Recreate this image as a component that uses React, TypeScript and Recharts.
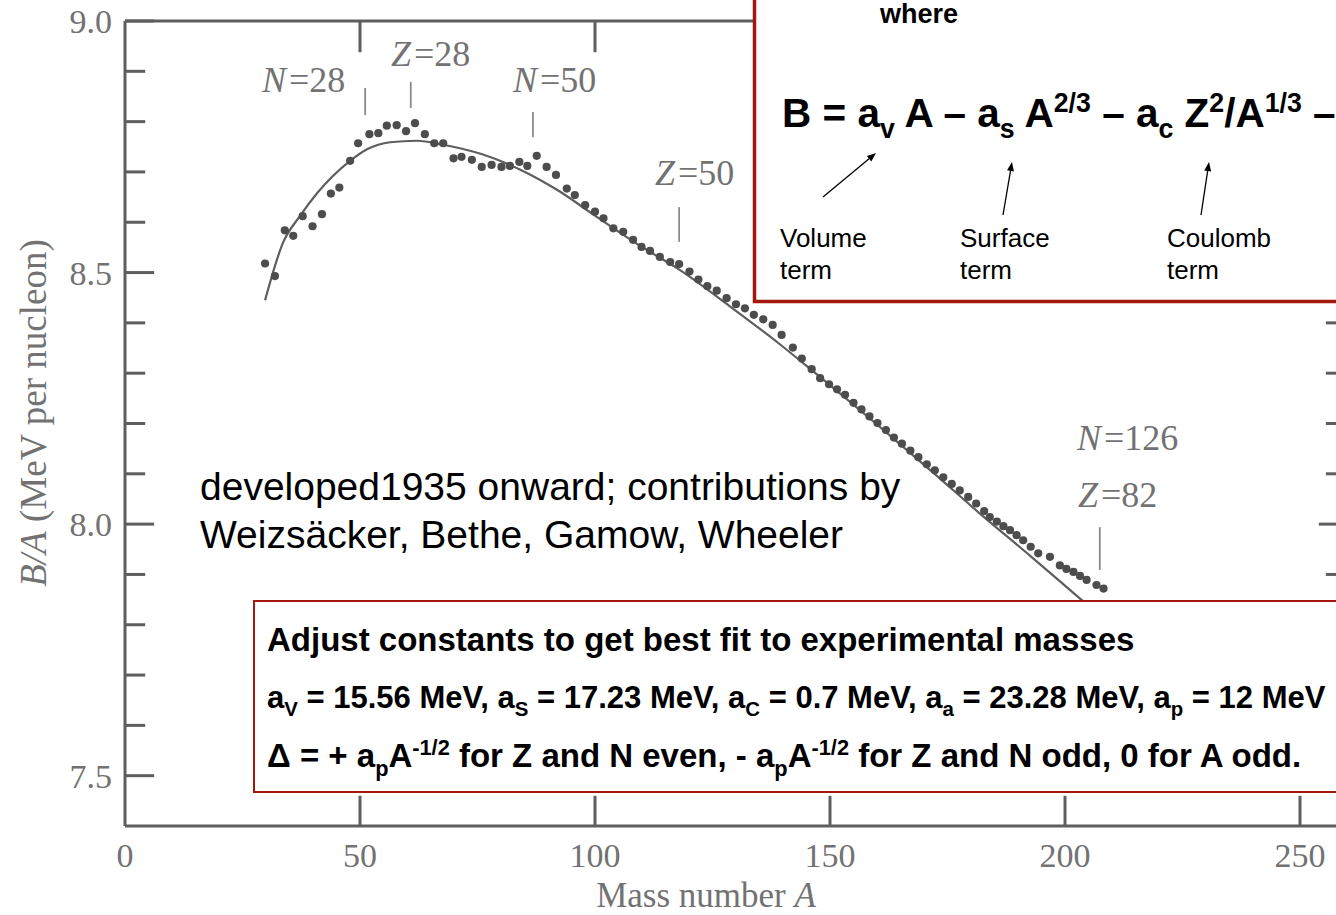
import React from "react";
import {
  ComposedChart,
  Line,
  ReferenceLine,
  Scatter,
  XAxis,
  YAxis,
} from "recharts";

// Measured binding energy per nucleon (MeV) against mass number A
const massNumbers = [
  29.8, 31.9, 34.0, 35.8, 37.8, 39.9, 41.9, 43.8, 45.6, 47.9, 49.6, 52.0,
  53.9, 55.7, 57.8, 59.8, 61.7, 63.8, 65.8, 67.7, 69.9, 71.6, 73.8, 75.9,
  78.0, 80.1, 81.9, 83.9, 85.6, 87.6, 89.7, 91.7, 94.0, 95.7, 97.9, 100.0,
  101.8, 103.9, 106.0, 108.1, 109.9, 111.7, 113.8, 116.0, 117.9, 120.1, 122.0,
  123.9, 125.9, 128.0, 130.0, 131.9, 133.8, 135.8, 137.8, 139.7, 142.1, 144.0,
  146.1, 147.9, 149.8, 151.5, 153.2, 155.0, 156.7, 158.4, 160.1, 161.9, 163.6,
  165.3, 167.1, 168.8, 170.6, 172.3, 174.1, 175.9, 177.6, 179.4, 181.1, 182.8,
  184.0, 185.5, 186.9, 188.3, 189.7, 191.1, 192.7, 194.3, 196.8, 198.9, 200.3,
  201.8, 203.2, 204.6, 206.7, 208.2,
];
const bindingPerNucleon = [
  8.518, 8.493, 8.584, 8.573, 8.612, 8.592, 8.616, 8.657, 8.669, 8.722, 8.757,
  8.775, 8.777, 8.792, 8.793, 8.781, 8.797, 8.775, 8.757, 8.757, 8.727, 8.73,
  8.724, 8.71, 8.714, 8.71, 8.712, 8.72, 8.712, 8.732, 8.71, 8.694, 8.667,
  8.654, 8.634, 8.621, 8.608, 8.588, 8.581, 8.565, 8.551, 8.543, 8.531, 8.521,
  8.517, 8.502, 8.486, 8.473, 8.464, 8.449, 8.437, 8.429, 8.416, 8.407, 8.396,
  8.376, 8.351, 8.329, 8.308, 8.29, 8.278, 8.268, 8.257, 8.241, 8.228, 8.214,
  8.201, 8.187, 8.172, 8.16, 8.146, 8.133, 8.119, 8.107, 8.093, 8.08, 8.067,
  8.054, 8.041, 8.026, 8.014, 8.005, 7.996, 7.988, 7.978, 7.968, 7.955, 7.942,
  7.935, 7.918, 7.911, 7.905, 7.897, 7.889, 7.879, 7.872,
];

// Semi-empirical mass formula fit
const fitMassNumbers = [
  29.8, 33.6, 37.2, 40.9, 47.9, 51.5, 56.4, 62.1, 67.7, 76.0, 84.0, 92.0,
  100.0, 109.6, 118.1, 128.7, 139.4, 146.5, 160.0, 172.0, 181.9, 192.6, 203.2,
  212.0,
];
const fitBindingPerNucleon = [
  8.445, 8.559, 8.612, 8.658, 8.722, 8.745, 8.759, 8.762, 8.754, 8.735, 8.705,
  8.664, 8.613, 8.553, 8.505, 8.433, 8.357, 8.303, 8.198, 8.102, 8.021, 7.937,
  7.852, 7.782,
];

const xTicks = [0, 50, 100, 150, 200, 250];
const yTicks = [7.5, 8.0, 8.5, 9.0];
const yMinorTicks = [7.6, 7.7, 7.8, 7.9, 8.1, 8.2, 8.3, 8.4, 8.6, 8.7, 8.8, 8.9];

// Magic-number markers: A position and the B/A span of each little bar
const shellA = [51.1, 60.8, 86.8, 117.9, 207.4];
const shellLow = [8.813, 8.827, 8.769, 8.561, 7.909];
const shellHigh = [8.867, 8.879, 8.819, 8.63, 7.994];

const measured = massNumbers.map((A, i) => ({ A, B: bindingPerNucleon[i] }));
const fit = fitMassNumbers.map((A, i) => ({ A, B: fitBindingPerNucleon[i] }));

const X_MIN = 0;
const X_MAX = 260;
const Y_MIN = 7.4;
const Y_MAX = 9.0;

const axisGrey = "#5e5e5e";
const textGrey = "#727272";
const dotGrey = "#4d4d4d";
const boxRed = "#a3170d";
const serif = '"Liberation Serif", "DejaVu Serif", serif';
const sans = '"Liberation Sans", Arial, sans-serif';

type Part = { t: string; s?: "sub" | "sup"; i?: boolean };

function Rich({
  x,
  y,
  size,
  parts,
  bold,
  fill = "#000",
  family = sans,
}: {
  x: number;
  y: number;
  size: number;
  parts: Part[];
  bold?: boolean;
  fill?: string;
  family?: string;
}) {
  let offset = 0;
  const spans = parts.map((p, i) => {
    const target = p.s === "sub" ? size * 0.26 : p.s === "sup" ? -size * 0.36 : 0;
    const dy = target - offset;
    offset = target;
    return (
      <tspan
        key={i}
        dy={dy}
        fontSize={p.s ? size * 0.66 : size}
        fontStyle={p.i ? "italic" : undefined}
      >
        {p.t}
      </tspan>
    );
  });
  return (
    <text
      x={x}
      y={y}
      fontSize={size}
      fontFamily={family}
      fontWeight={bold ? 700 : 400}
      fill={fill}
      style={{ whiteSpace: "pre" }}
    >
      {spans}
    </text>
  );
}

function Arrow({ x1, y1, x2, y2 }: { x1: number; y1: number; x2: number; y2: number }) {
  const ang = Math.atan2(y2 - y1, x2 - x1);
  const len = 9;
  const w = 3.5;
  const bx = x2 - len * Math.cos(ang);
  const by = y2 - len * Math.sin(ang);
  const px = -Math.sin(ang) * w;
  const py = Math.cos(ang) * w;
  return (
    <g>
      <line x1={x1} y1={y1} x2={bx} y2={by} stroke="#000" strokeWidth={1.3} />
      <polygon
        points={`${x2},${y2} ${bx + px},${by + py} ${bx - px},${by - py}`}
        fill="#000"
      />
    </g>
  );
}

const shellText: { x: number; y: number; letter: string; rest: string }[] = [
  { x: 262, y: 92, letter: "N", rest: "=28" },
  { x: 391, y: 66, letter: "Z", rest: "=28" },
  { x: 513, y: 92, letter: "N", rest: "=50" },
  { x: 655, y: 185, letter: "Z", rest: "=50" },
  { x: 1077, y: 450, letter: "N", rest: "=126" },
  { x: 1078, y: 507, letter: "Z", rest: "=82" },
];

export default function App() {
  return (
    <div
      style={{
        position: "fixed",
        left: 0,
        top: 0,
        width: 1336,
        height: 915,
        overflow: "hidden",
        background: "#fff",
      }}
    >
      <ComposedChart
        width={1400}
        height={915}
        margin={{ top: 21, right: 53, bottom: 0, left: 0 }}
      >
        <XAxis
          type="number"
          dataKey="A"
          domain={[X_MIN, X_MAX]}
          ticks={xTicks}
          allowDataOverflow
          height={89}
          tickSize={0}
          tickMargin={17}
          tickLine={false}
          axisLine={{ stroke: axisGrey, strokeWidth: 3 }}
          tick={{ fontSize: 34, fill: textGrey, fontFamily: serif }}
          label={(props: any) => {
            const vb = props.viewBox || { x: 125, y: 826 };
            return (
              <text
                x={vb.x + 581}
                y={vb.y + 81}
                textAnchor="middle"
                fontSize={35}
                fontFamily={serif}
                fill={textGrey}
              >
                Mass number <tspan fontStyle="italic">A</tspan>
              </text>
            );
          }}
        />
        <YAxis
          type="number"
          dataKey="B"
          domain={[Y_MIN, Y_MAX]}
          ticks={yTicks}
          allowDataOverflow
          width={125}
          tickSize={0}
          tickMargin={13}
          tickLine={false}
          axisLine={{ stroke: axisGrey, strokeWidth: 3 }}
          tick={{ fontSize: 34, fill: textGrey, fontFamily: serif }}
          tickFormatter={(v: number) => v.toFixed(1)}
          label={(props: any) => {
            const vb = props.viewBox || { x: 0, y: 21 };
            const cx = vb.x + 33;
            const cy = vb.y + 392;
            return (
              <text
                x={cx}
                y={cy}
                transform={`rotate(-90 ${cx} ${cy})`}
                textAnchor="middle"
                dominantBaseline="central"
                fontSize={37}
                fontFamily={serif}
                fill={textGrey}
              >
                <tspan fontStyle="italic">B/A</tspan> (MeV per nucleon)
              </text>
            );
          }}
        />

        {/* frame: top and right edges */}
        <ReferenceLine y={Y_MAX} stroke={axisGrey} strokeWidth={3} ifOverflow="visible" />
        <ReferenceLine x={X_MAX} stroke={axisGrey} strokeWidth={3} ifOverflow="visible" />

        {/* inward ticks on all four sides */}
        {yTicks.map((v) => (
          <ReferenceLine
            key={`yl${v}`}
            segment={[{ x: 0, y: v }, { x: 6.2, y: v }]}
            stroke={axisGrey}
            strokeWidth={3}
            ifOverflow="visible"
          />
        ))}
        {yMinorTicks.map((v) => (
          <ReferenceLine
            key={`ym${v}`}
            segment={[{ x: 0, y: v }, { x: 4.3, y: v }]}
            stroke={axisGrey}
            strokeWidth={3}
            ifOverflow="visible"
          />
        ))}
        {yTicks.map((v) => (
          <ReferenceLine
            key={`yr${v}`}
            segment={[{ x: X_MAX, y: v }, { x: X_MAX - 6, y: v }]}
            stroke={axisGrey}
            strokeWidth={3}
            ifOverflow="visible"
          />
        ))}
        {yMinorTicks.map((v) => (
          <ReferenceLine
            key={`yrm${v}`}
            segment={[{ x: X_MAX, y: v }, { x: X_MAX - 4.5, y: v }]}
            stroke={axisGrey}
            strokeWidth={3}
            ifOverflow="visible"
          />
        ))}
        {xTicks.slice(1).map((t) => (
          <ReferenceLine
            key={`xb${t}`}
            segment={[{ x: t, y: Y_MIN }, { x: t, y: Y_MIN + 0.06 }]}
            stroke={axisGrey}
            strokeWidth={3}
            ifOverflow="visible"
          />
        ))}
        {xTicks.slice(1).map((t) => (
          <ReferenceLine
            key={`xt${t}`}
            segment={[{ x: t, y: Y_MAX }, { x: t, y: Y_MAX - 0.062 }]}
            stroke={axisGrey}
            strokeWidth={3}
            ifOverflow="visible"
          />
        ))}

        {/* magic-number markers */}
        {shellA.map((a, i) => (
          <ReferenceLine
            key={`sh${i}`}
            segment={[{ x: a, y: shellLow[i] }, { x: a, y: shellHigh[i] }]}
            stroke="#8a8a8a"
            strokeWidth={1.8}
          />
        ))}

        <Line
          data={fit}
          dataKey="B"
          type="monotone"
          stroke={axisGrey}
          strokeWidth={2.2}
          dot={false}
          activeDot={false}
          isAnimationActive={false}
        />
        <Scatter
          data={measured}
          dataKey="B"
          fill={dotGrey}
          isAnimationActive={false}
          shape={(p: any) => <circle cx={p.cx} cy={p.cy} r={4.1} fill={dotGrey} />}
        />
      </ComposedChart>

      <svg
        width={1336}
        height={915}
        style={{ position: "absolute", left: 0, top: 0, pointerEvents: "none" }}
      >
        {shellText.map((s, i) => (
          <text
            key={i}
            x={s.x}
            y={s.y}
            fontSize={36}
            fontFamily={serif}
            fill={textGrey}
            style={{ whiteSpace: "pre" }}
          >
            <tspan fontStyle="italic">{s.letter}</tspan>
            <tspan dx={3}>{s.rest}</tspan>
          </text>
        ))}

        <text x={200} y={500} fontSize={39} fontFamily={sans} fill="#000">
          developed1935 onward; contributions by
        </text>
        <text x={200} y={548} fontSize={39} fontFamily={sans} fill="#000">
          Weizsäcker, Bethe, Gamow, Wheeler
        </text>

        {/* formula box */}
        <rect x={754.5} y={-20} width={700} height={321.5} fill="#fff" stroke={boxRed} strokeWidth={3.5} />
        <text x={880} y={23} fontSize={27} fontWeight={700} fontFamily={sans} fill="#000">
          where
        </text>
        <Rich
          x={782}
          y={127}
          size={40.5}
          bold
          parts={[
            { t: "B = a" },
            { t: "v", s: "sub" },
            { t: " A – a" },
            { t: "s", s: "sub" },
            { t: " A" },
            { t: "2/3", s: "sup" },
            { t: " – a" },
            { t: "c", s: "sub" },
            { t: " Z" },
            { t: "2", s: "sup" },
            { t: "/A" },
            { t: "1/3", s: "sup" },
            { t: " –" },
          ]}
        />
        <Arrow x1={823} y1={197} x2={876} y2={153} />
        <Arrow x1={1003} y1={215} x2={1012} y2={162} />
        <Arrow x1={1201} y1={215} x2={1209} y2={162} />
        {[
          { x: 780, a: "Volume" },
          { x: 960, a: "Surface" },
          { x: 1167, a: "Coulomb" },
        ].map((l) => (
          <g key={l.a}>
            <text x={l.x} y={247} fontSize={26} fontFamily={sans} fill="#000">
              {l.a}
            </text>
            <text x={l.x} y={279} fontSize={26} fontFamily={sans} fill="#000">
              term
            </text>
          </g>
        ))}

        {/* constants box */}
        <rect x={254} y={601} width={1200} height={191} fill="#fff" stroke={boxRed} strokeWidth={2} />
        <text x={267} y={651} fontSize={33} fontWeight={700} fontFamily={sans} fill="#000">
          Adjust constants to get best fit to experimental masses
        </text>
        <Rich
          x={267}
          y={708}
          size={31}
          bold
          parts={[
            { t: "a" },
            { t: "V", s: "sub" },
            { t: " = 15.56 MeV, a" },
            { t: "S", s: "sub" },
            { t: " = 17.23 MeV, a" },
            { t: "C", s: "sub" },
            { t: " = 0.7 MeV, a" },
            { t: "a", s: "sub" },
            { t: " = 23.28 MeV, a" },
            { t: "p", s: "sub" },
            { t: " = 12 MeV" },
          ]}
        />
        <Rich
          x={267}
          y={767}
          size={33}
          bold
          parts={[
            { t: "Δ = + a" },
            { t: "p", s: "sub" },
            { t: "A" },
            { t: "-1/2", s: "sup" },
            { t: " for Z and N even, - a" },
            { t: "p", s: "sub" },
            { t: "A" },
            { t: "-1/2", s: "sup" },
            { t: " for Z and N odd, 0 for A odd." },
          ]}
        />
      </svg>
    </div>
  );
}
